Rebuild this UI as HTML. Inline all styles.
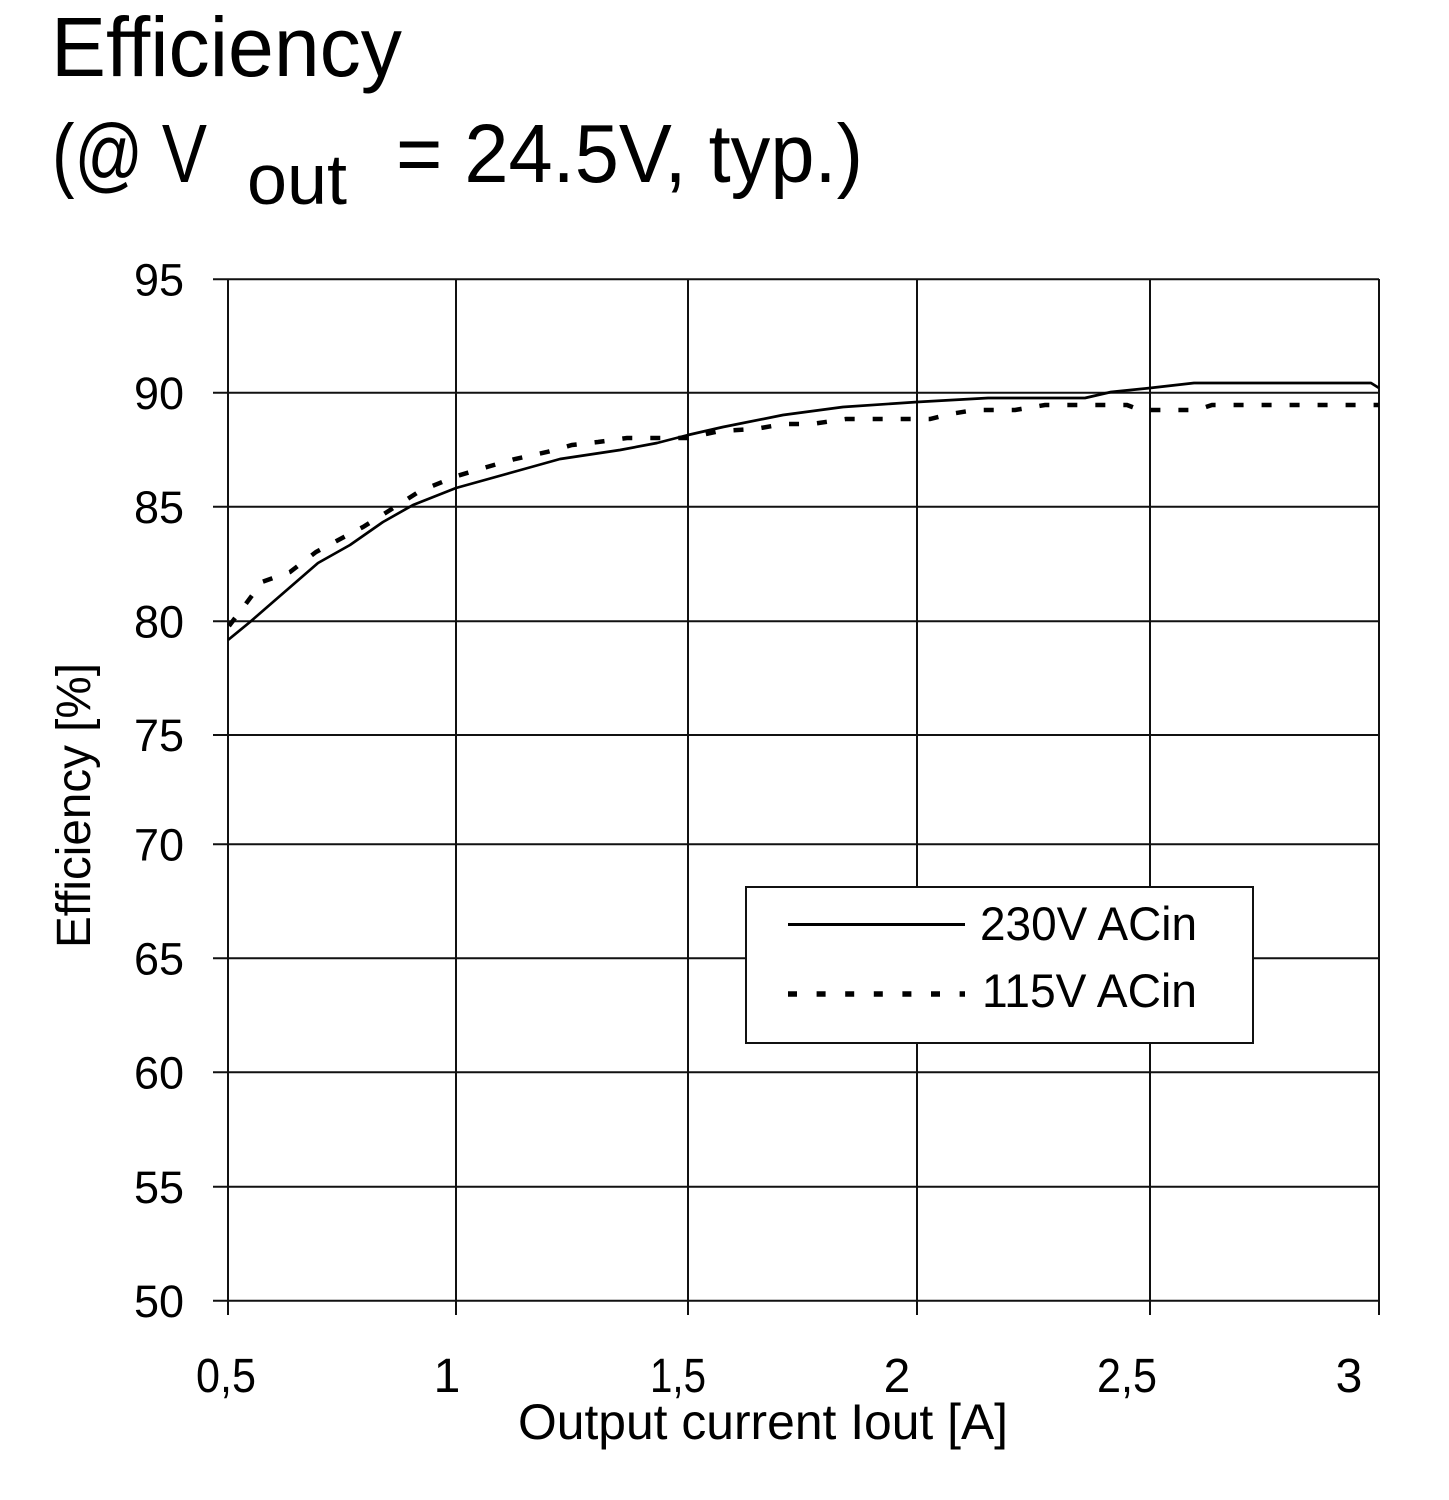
<!DOCTYPE html>
<html>
<head>
<meta charset="utf-8">
<style>
  html,body{margin:0;padding:0;background:#fff;}
  svg{display:block;}
  text{font-family:"Liberation Sans",Arial,sans-serif;fill:#000;}
</style>
</head>
<body>
<svg width="1449" height="1500" viewBox="0 0 1449 1500" xmlns="http://www.w3.org/2000/svg">
  <rect x="0" y="0" width="1449" height="1500" fill="#fff"/>

  <!-- Title -->
  <text x="51" y="76" font-size="84" textLength="351" lengthAdjust="spacingAndGlyphs">Efficiency</text>
  <text x="52" y="182" font-size="83" textLength="155" lengthAdjust="spacingAndGlyphs">(@ V</text>
  <text x="247" y="204" font-size="71" textLength="100" lengthAdjust="spacingAndGlyphs">out</text>
  <text x="396" y="182" font-size="83" textLength="467" lengthAdjust="spacingAndGlyphs">= 24.5V, typ.)</text>

  <!-- Grid -->
  <g stroke="#111" stroke-width="2" fill="none">
    <line x1="213" y1="279.3" x2="1379" y2="279.3"/>
    <line x1="213" y1="392.7" x2="1379" y2="392.7"/>
    <line x1="213" y1="506.7" x2="1379" y2="506.7"/>
    <line x1="213" y1="621.3" x2="1379" y2="621.3"/>
    <line x1="213" y1="735" x2="1379" y2="735"/>
    <line x1="213" y1="844.3" x2="1379" y2="844.3"/>
    <line x1="213" y1="958.3" x2="1379" y2="958.3"/>
    <line x1="213" y1="1072.3" x2="1379" y2="1072.3"/>
    <line x1="213" y1="1186.7" x2="1379" y2="1186.7"/>
    <line x1="213" y1="1300.7" x2="1379" y2="1300.7"/>

    <line x1="228" y1="279" x2="228" y2="1315"/>
    <line x1="456" y1="279" x2="456" y2="1315"/>
    <line x1="688" y1="279" x2="688" y2="1315"/>
    <line x1="917" y1="279" x2="917" y2="1315"/>
    <line x1="1150" y1="279" x2="1150" y2="1315"/>
    <line x1="1379" y1="279" x2="1379" y2="1315"/>
  </g>

  <!-- Y tick labels -->
  <g font-size="45" text-anchor="end">
    <text x="184" y="295.5">95</text>
    <text x="184" y="409">90</text>
    <text x="184" y="523">85</text>
    <text x="184" y="637.5">80</text>
    <text x="184" y="751">75</text>
    <text x="184" y="860.5">70</text>
    <text x="184" y="974.5">65</text>
    <text x="184" y="1088.5">60</text>
    <text x="184" y="1203">55</text>
    <text x="184" y="1317">50</text>
  </g>

  <!-- X tick labels -->
  <g font-size="48" text-anchor="middle">
    <text x="226" y="1392" textLength="60" lengthAdjust="spacingAndGlyphs">0,5</text>
    <text x="447" y="1392">1</text>
    <text x="678" y="1392" textLength="56" lengthAdjust="spacingAndGlyphs">1,5</text>
    <text x="897" y="1392">2</text>
    <text x="1127" y="1392" textLength="60" lengthAdjust="spacingAndGlyphs">2,5</text>
    <text x="1349" y="1392">3</text>
  </g>

  <!-- Axis titles -->
  <text x="518" y="1439" font-size="50" textLength="490" lengthAdjust="spacingAndGlyphs">Output current Iout [A]</text>
  <text transform="translate(90,948) rotate(-90)" x="0" y="0" font-size="48" textLength="285" lengthAdjust="spacingAndGlyphs">Efficiency [%]</text>

  <!-- 230V curve (solid) -->
  <polyline fill="none" stroke="#000" stroke-width="2.7" stroke-linejoin="round"
    points="228,640 250,622 273,602 318,563 350,545 383,522 413,505 456,488 517,471 560,459 620,450 657,443 688,435 723,427 783,415 843,407 917,402 988,398 1085,398 1111,392 1150,388 1194,383 1371,383 1379,388"/>

  <!-- 115V curve (dashed) -->
  <polyline fill="none" stroke="#000" stroke-width="4.5" stroke-dasharray="10 18" stroke-linejoin="miter"
    points="229,626 245,605 262,582 290,572 316,552 344,537 363,527 387,512 420,491 457,476 487,467 515,459 547,452 572,445 598,442 627,438 688,438 720,431 755,429 784,424 812,424 846,419 930,419 950,414 975,410 1015,410 1033,407 1045,405 1127,405 1140,410 1197,410 1212,405 1379,405"/>

  <!-- Legend -->
  <rect x="746" y="887" width="507" height="156" fill="#fff" stroke="#111" stroke-width="2"/>
  <line x1="788" y1="924.5" x2="965" y2="924.5" stroke="#000" stroke-width="3"/>
  <line x1="788" y1="994" x2="965" y2="994" stroke="#000" stroke-width="5.5" stroke-dasharray="9 19.6"/>
  <text x="980" y="940" font-size="47" textLength="217" lengthAdjust="spacingAndGlyphs">230V ACin</text>
  <text x="982" y="1007" font-size="47" textLength="215" lengthAdjust="spacingAndGlyphs">115V ACin</text>
</svg>
</body>
</html>
